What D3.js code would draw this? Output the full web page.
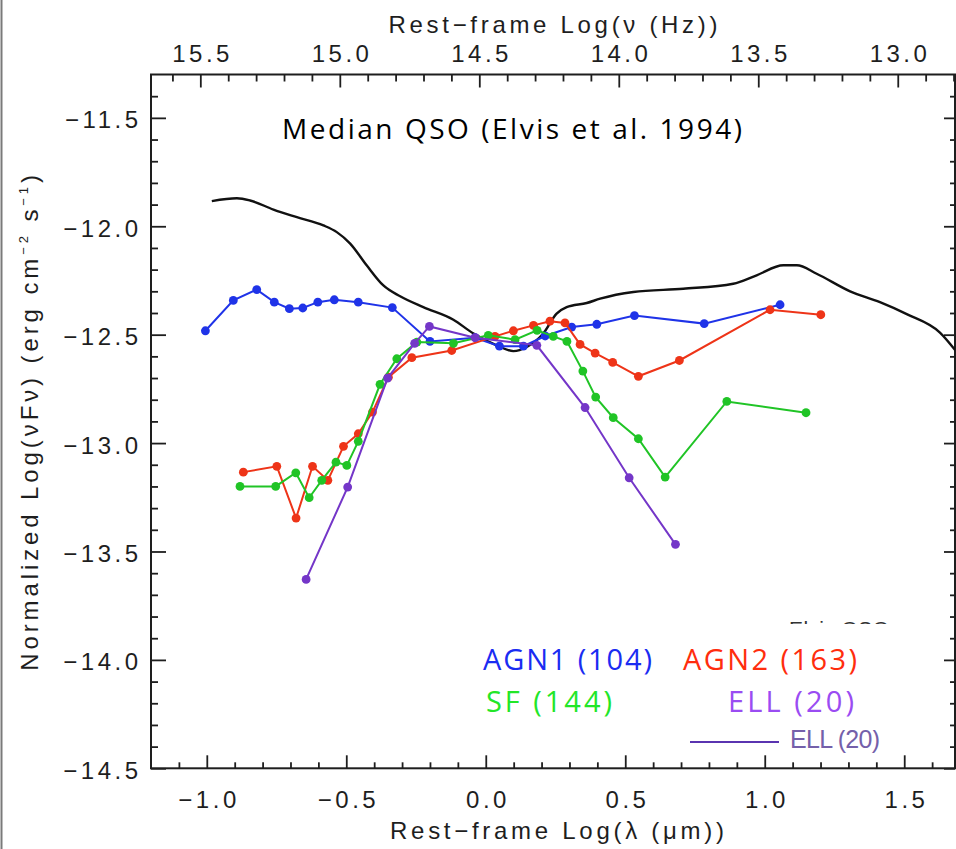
<!DOCTYPE html>
<html>
<head>
<meta charset="utf-8">
<script src="https://cdn.jsdelivr.net/npm/d3@7"></script>
<style>
  html, body { margin: 0; padding: 0; background: #fff; }
  svg { display: block; }
</style>
</head>
<body>
<svg id="chart" width="956" height="849"></svg>
<script>
// ---- Data: rest-frame log wavelength (µm) vs normalized log(νFν) ----
const agn1Lambda = [-1.005, -0.905, -0.821, -0.758, -0.704, -0.656, -0.602, -0.543, -0.457, -0.335, -0.200, -0.038, 0.049, 0.135, 0.213, 0.308, 0.398, 0.533, 0.783, 1.055];
const agn1Flux   = [-12.482, -12.342, -12.292, -12.350, -12.380, -12.377, -12.350, -12.339, -12.350, -12.375, -12.531, -12.514, -12.553, -12.553, -12.506, -12.465, -12.452, -12.412, -12.449, -12.362];

const agn2Lambda = [-0.869, -0.749, -0.680, -0.621, -0.566, -0.510, -0.457, -0.406, -0.349, -0.265, -0.122, 0.033, 0.099, 0.171, 0.230, 0.284, 0.338, 0.392, 0.455, 0.547, 0.694, 1.019, 1.201];
const agn2Flux   = [-13.134, -13.107, -13.346, -13.107, -13.172, -13.015, -12.957, -12.857, -12.696, -12.606, -12.573, -12.508, -12.482, -12.457, -12.438, -12.446, -12.545, -12.585, -12.628, -12.692, -12.619, -12.385, -12.408];

const sfLambda = [-0.881, -0.753, -0.681, -0.633, -0.588, -0.537, -0.498, -0.457, -0.379, -0.319, -0.247, -0.116, 0.009, 0.105, 0.184, 0.242, 0.291, 0.348, 0.394, 0.457, 0.547, 0.643, 0.864, 1.148];
const sfFlux   = [-13.200, -13.200, -13.137, -13.252, -13.172, -13.088, -13.103, -12.992, -12.729, -12.611, -12.534, -12.540, -12.503, -12.523, -12.480, -12.508, -12.531, -12.668, -12.788, -12.883, -12.980, -13.157, -12.808, -12.860];

const ellLambda = [-0.644, -0.495, -0.352, -0.255, -0.202, -0.038, 0.183, 0.356, 0.514, 0.680];
const ellFlux   = [-13.629, -13.203, -12.700, -12.540, -12.462, -12.514, -12.549, -12.836, -13.160, -13.467];

// Median radio-quiet QSO template (Elvis et al. 1994)
const qsoLambda = [-0.982, -0.892, -0.845, -0.761, -0.677, -0.582, -0.534, -0.486, -0.427, -0.367, -0.307, -0.224, -0.116, -0.044, 0.039, 0.099, 0.147, 0.206, 0.254, 0.290, 0.362, 0.410, 0.529, 0.708, 0.887, 0.971, 1.067, 1.115, 1.186, 1.306, 1.413, 1.509, 1.628, 1.700];
const qsoFlux   = [-11.884, -11.871, -11.881, -11.923, -11.958, -11.996, -12.027, -12.080, -12.180, -12.273, -12.323, -12.373, -12.431, -12.495, -12.549, -12.576, -12.557, -12.495, -12.403, -12.373, -12.354, -12.334, -12.303, -12.288, -12.265, -12.226, -12.180, -12.180, -12.219, -12.300, -12.350, -12.405, -12.490, -12.600];

// ---- Axis ticks ----
const lambdaTicks = [-1.0, -0.5, 0.0, 0.5, 1.0, 1.5];
const fluxTicks   = [-14.5, -14.0, -13.5, -13.0, -12.5, -12.0, -11.5];
const nuTicks     = [15.5, 15.0, 14.5, 14.0, 13.5, 13.0];

// log(c) with c in µm/s: log ν = LOG_C - log λ
const LOG_C = 14.4768;

const series = [
  { name: "AGN1", x: agn1Lambda, y: agn1Flux, color: "#1f33e8" },
  { name: "AGN2", x: agn2Lambda, y: agn2Flux, color: "#ee3418" },
  { name: "SF",   x: sfLambda,   y: sfFlux,   color: "#20c426" },
  { name: "ELL",  x: ellLambda,  y: ellFlux,  color: "#7436c8" }
];

const legendItems = [
  { label: "AGN1 (104)", color: "#1a2cf2", x: 483, y: 670, len: 169 },
  { label: "AGN2 (163)", color: "#ff2d0d", x: 683, y: 670, len: 174 },
  { label: "SF (144)",   color: "#22e628", x: 486, y: 712, len: 126 },
  { label: "ELL (20)",   color: "#9a4cf2", x: 728, y: 712, len: 126 }
];

// ---- Layout ----
const svg = d3.select("#chart");
const pLeft = 151, pRight = 955, pTop = 74.5, pBottom = 768.3;

const x = d3.scaleLinear().domain([-1.2, 1.682]).range([pLeft, pRight]);
const y = d3.scaleLinear().domain([-14.5, -11.3]).range([pBottom, pTop]);
const nu = d3.scaleLinear().domain([LOG_C + 1.2, LOG_C - 1.682]).range([pLeft, pRight]);

const fmt = d3.format(".1f");
const tickFont = "'Liberation Sans', Arial, sans-serif";
const ink = "#1e1e1e";
const LS = 3.5;

// thin border at the far left of the figure
svg.append("line").attr("x1", 1.5).attr("x2", 1.5).attr("y1", 0).attr("y2", 849)
  .attr("stroke", "#7a7a7a").attr("stroke-width", 2);

// minor tick helper
function tenths(a, b) {
  const out = [];
  for (let v = Math.round(a * 10); v <= Math.round(b * 10); v++) out.push(v / 10);
  return out;
}
const isMajor = v => Math.abs(v * 2 - Math.round(v * 2)) < 1e-6;

const xMinor = tenths(-1.1, 1.6).filter(v => !isMajor(v));
const yMinor = tenths(-14.4, -11.4).filter(v => !isMajor(v));
const nuMinor = tenths(12.8, 15.6).filter(v => !isMajor(v));

function styleAxis(g) {
  g.select(".domain").remove();
  g.selectAll(".tick line").attr("stroke", ink).attr("stroke-width", 1.8);
  g.selectAll("text").attr("fill", ink).attr("font-family", tickFont)
    .attr("font-size", 24).attr("letter-spacing", LS);
}

// bottom axis (log λ)
const gB = svg.append("g").attr("transform", `translate(0,${pBottom})`)
  .call(d3.axisBottom(x).tickValues(lambdaTicks).tickSize(-13).tickFormat(fmt));
styleAxis(gB);
gB.selectAll("text").attr("y", 40).attr("dy", null).attr("dx", LS / 2);
const gBm = svg.append("g").attr("transform", `translate(0,${pBottom})`)
  .call(d3.axisBottom(x).tickValues(xMinor).tickSize(-6).tickFormat(""));
styleAxis(gBm);

// top axis (log ν)
const gT = svg.append("g").attr("transform", `translate(0,${pTop})`)
  .call(d3.axisTop(nu).tickValues(nuTicks).tickSize(-13).tickFormat(fmt));
styleAxis(gT);
gT.selectAll("text").attr("y", -13).attr("dy", null).attr("dx", LS / 2);
const gTm = svg.append("g").attr("transform", `translate(0,${pTop})`)
  .call(d3.axisTop(nu).tickValues(nuMinor).tickSize(-7).tickFormat(""));
styleAxis(gTm);

// left axis (log νFν)
const gL = svg.append("g").attr("transform", `translate(${pLeft},0)`)
  .call(d3.axisLeft(y).tickValues(fluxTicks).tickSize(-15).tickFormat(fmt));
styleAxis(gL);
gL.selectAll("text").attr("x", -13 + LS).attr("dy", null).attr("y", 10);
const gLm = svg.append("g").attr("transform", `translate(${pLeft},0)`)
  .call(d3.axisLeft(y).tickValues(yMinor).tickSize(-7).tickFormat(""));
styleAxis(gLm);

// right axis (ticks only)
const gR = svg.append("g").attr("transform", `translate(${pRight},0)`)
  .call(d3.axisRight(y).tickValues(fluxTicks).tickSize(-11).tickFormat(""));
styleAxis(gR);
const gRm = svg.append("g").attr("transform", `translate(${pRight},0)`)
  .call(d3.axisRight(y).tickValues(yMinor).tickSize(-5).tickFormat(""));
styleAxis(gRm);

// frame
svg.append("rect").attr("x", pLeft).attr("y", pTop)
  .attr("width", pRight - pLeft).attr("height", pBottom - pTop)
  .attr("fill", "none").attr("stroke", ink).attr("stroke-width", 2);

// axis titles
svg.append("text").attr("x", 553).attr("y", 33).attr("text-anchor", "middle")
  .attr("font-family", tickFont).attr("font-size", 24).attr("fill", ink)
  .attr("textLength", 329).attr("lengthAdjust", "spacing")
  .text("Rest\u2212frame Log(\u03bd (Hz))");

svg.append("text").attr("x", 557).attr("y", 839).attr("text-anchor", "middle")
  .attr("font-family", tickFont).attr("font-size", 24).attr("fill", ink)
  .attr("textLength", 334).attr("lengthAdjust", "spacing")
  .text("Rest\u2212frame Log(\u03bb (\u03bcm))");

const yTitle = svg.append("text")
  .attr("transform", "translate(38,421) rotate(-90)")
  .attr("text-anchor", "middle")
  .attr("font-family", tickFont).attr("font-size", 24).attr("fill", ink)
  .attr("letter-spacing", 3.9);
yTitle.append("tspan").text("Normalized Log(\u03bdF\u03bd) (erg cm");
yTitle.append("tspan").attr("font-size", 13).attr("dy", -10).text("\u22122");
yTitle.append("tspan").attr("dy", 10).text(" s");
yTitle.append("tspan").attr("font-size", 13).attr("dy", -10).text("\u22121");
yTitle.append("tspan").attr("dy", 10).text(")");

// ---- Plot area ----
svg.append("clipPath").attr("id", "plot-clip")
  .append("rect").attr("x", pLeft).attr("y", pTop)
  .attr("width", pRight - pLeft).attr("height", pBottom - pTop);

const plot = svg.append("g").attr("clip-path", "url(#plot-clip)");

// QSO template curve
const qsoPts = qsoLambda.map((v, i) => [v, qsoFlux[i]]);
plot.append("path")
  .datum(qsoPts)
  .attr("fill", "none").attr("stroke", "#111").attr("stroke-width", 2.4)
  .attr("d", d3.line().x(d => x(d[0])).y(d => y(d[1])).curve(d3.curveMonotoneX));

const line = d3.line().x(d => x(d[0])).y(d => y(d[1]));

series.forEach(s => {
  const pts = s.x.map((v, i) => [v, s.y[i]]);
  const g = plot.append("g");
  g.append("path").datum(pts)
    .attr("fill", "none").attr("stroke", s.color).attr("stroke-width", 2)
    .attr("d", line);
  g.selectAll("circle").data(pts).join("circle")
    .attr("cx", d => x(d[0])).attr("cy", d => y(d[1])).attr("r", 4.4)
    .attr("fill", s.color);
});

// ---- Annotation and legend ----
const handFont = "'Open Sans', 'Noto Sans', sans-serif";

svg.append("text").attr("x", 282).attr("y", 139)
  .attr("font-family", handFont).attr("font-size", 28).attr("fill", "#000")
  .attr("textLength", 460).attr("lengthAdjust", "spacing")
  .text("Median QSO (Elvis et al. 1994)");

// plot-legend entries partly covered by the label panel
svg.append("text").attr("x", 789).attr("y", 636)
  .attr("font-family", tickFont).attr("font-size", 21).attr("fill", "#333")
  .attr("textLength", 100).attr("lengthAdjust", "spacing")
  .text("Elvis QSO");
svg.append("text").attr("x", 790).attr("y", 748)
  .attr("font-family", tickFont).attr("font-size", 25).attr("fill", "#7460aa")
  .attr("textLength", 90).attr("lengthAdjust", "spacing")
  .text("ELL (20)");
svg.append("line").attr("x1", 690).attr("x2", 779).attr("y1", 742).attr("y2", 742)
  .attr("stroke", "#5a34b0").attr("stroke-width", 2);

// white label panel
svg.append("rect").attr("x", 470).attr("y", 624).attr("width", 460).attr("height", 106)
  .attr("fill", "#fff");

legendItems.forEach(d => {
  svg.append("text").attr("x", d.x).attr("y", d.y)
    .attr("font-family", handFont).attr("font-size", 29).attr("fill", d.color)
    .attr("textLength", d.len).attr("lengthAdjust", "spacing")
    .text(d.label);
});
</script>
</body>
</html>
